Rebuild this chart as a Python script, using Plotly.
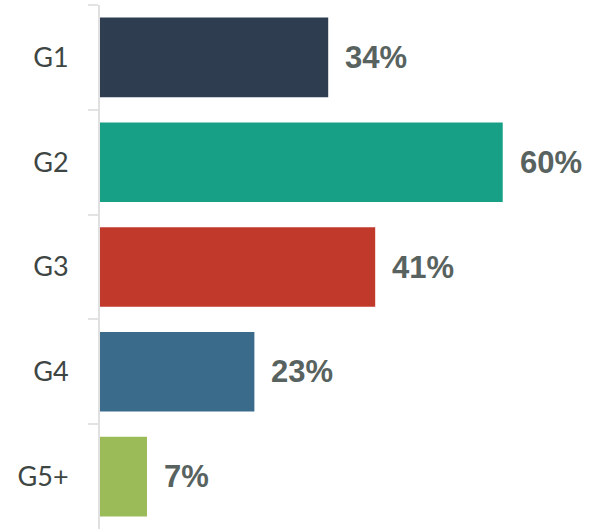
import plotly.graph_objects as go

categories = ["G1", "G2", "G3", "G4", "G5+"]
values = [34, 60, 41, 23, 7]
colors = ["#2e3e50", "#17a085", "#c0392b", "#3a6b8b", "#9bbb59"]

fig = go.Figure(
    go.Bar(
        x=values,
        y=categories,
        orientation="h",
        marker=dict(color=colors, line=dict(width=0)),
        hoverinfo="skip",
    )
)

# value labels just to the right of each bar end
for cat, val in zip(categories, values):
    fig.add_annotation(
        x=val, y=cat, text=f"<b>{val}%</b>", showarrow=False,
        xanchor="left", yanchor="middle", xshift=15,
        font=dict(family="Liberation Sans", size=31, color="#58635f"),
    )

fig.update_layout(
    width=592, height=529,
    margin=dict(l=100, r=0, t=5, b=0),
    plot_bgcolor="white", paper_bgcolor="white",
    bargap=0.24,
    showlegend=False,
    xaxis=dict(range=[0, 73.3], visible=False, fixedrange=True),
    yaxis=dict(
        categoryorder="array", categoryarray=categories,
        autorange="reversed",
        showline=True, linecolor="#e0e0e0", linewidth=2,
        ticks="outside", tickson="boundaries", ticklen=10,
        tickcolor="#e3e3e3", tickwidth=2,
        ticklabelstandoff=24,
        tickfont=dict(family="Lato", size=27, color="#3e4643"),
        showgrid=False, zeroline=False,
    ),
)

fig.write_html("out.html")
